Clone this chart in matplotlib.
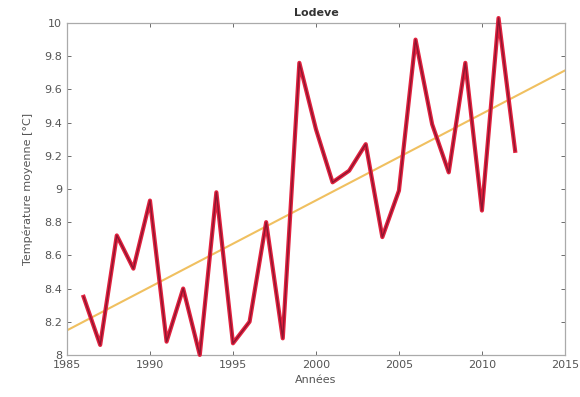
import numpy as np
import matplotlib.pyplot as plt

# Températures moyennes annuelles à Lodève
annees = np.arange(1986, 2013)
temperatures = [8.35, 8.06, 8.72, 8.52, 8.93, 8.08, 8.40, 8.00, 8.98, 8.07,
                8.20, 8.80, 8.10, 9.76, 9.36, 9.04, 9.11, 9.27, 8.71, 8.99,
                9.90, 9.39, 9.10, 9.76, 8.87, 10.03, 9.23]

x_ticks = [1985, 1990, 1995, 2000, 2005, 2010, 2015]
y_ticks = [8, 8.2, 8.4, 8.6, 8.8, 9, 9.2, 9.4, 9.6, 9.8, 10]
y_labels = ["8", "8.2", "8.4", "8.6", "8.8", "9", "9.2", "9.4", "9.6", "9.8", "10"]

# Tendance linéaire (moindres carrés)
pente, origine = np.polyfit(annees, temperatures, 1)
x_tend = np.array([1985, 2015])
y_tend = pente * x_tend + origine

gris = "#555555"
fig = plt.figure(figsize=(5.8, 3.97), dpi=100)
ax = fig.add_axes([0.1155, 0.106, 0.8585, 0.836])

ax.plot(x_tend, y_tend, color="#f0c060", lw=1.5, zorder=2)
ax.plot(annees, temperatures, color="#e2223f", lw=3.0, zorder=3, clip_on=False)
ax.plot(annees, temperatures, color="#8e1530", lw=1.0, zorder=4, clip_on=False)

ax.set_xlim(1985, 2015)
ax.set_ylim(8, 10)
ax.set_xticks(x_ticks)
ax.set_yticks(y_ticks)
ax.set_yticklabels(y_labels)
ax.tick_params(direction="in", top=True, right=True, labelsize=8,
               colors=gris, length=3, width=0.6)
for s in ax.spines.values():
    s.set_color("#aaaaaa")
    s.set_linewidth(0.9)

ax.set_title("Lodeve", fontsize=8, fontweight="bold", color="#333333", pad=5)
ax.set_xlabel("Années", fontsize=8, color=gris, labelpad=4)
ax.set_ylabel("Température moyenne [°C]", fontsize=8, color=gris, labelpad=8)

fig.savefig("out.png", dpi=100)
